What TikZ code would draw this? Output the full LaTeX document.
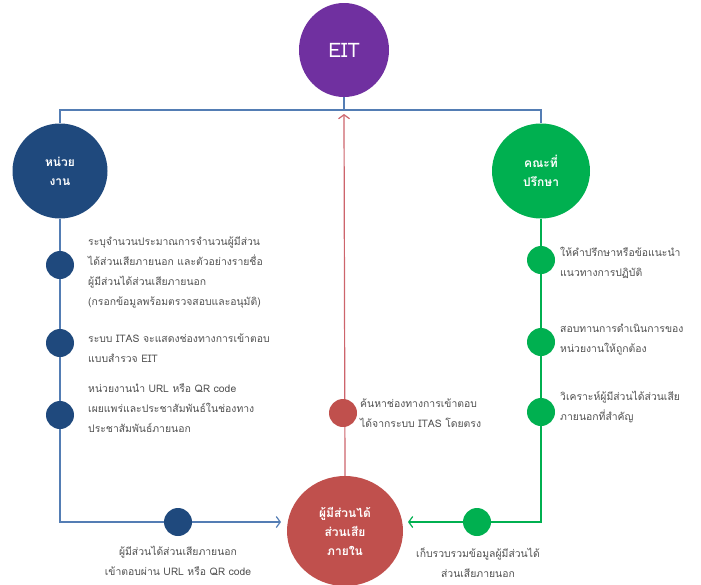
\documentclass[tikz,border=0pt]{standalone}
\usepackage{fontspec}
\setmainfont[Script=Thai]{Loma}
\usepackage{tikz}
\usetikzlibrary{arrows.meta, shapes.geometric}

\definecolor{eitpurple}{RGB}{112,48,160}
\definecolor{unitnavy}{RGB}{31,73,125}
\definecolor{boardgreen}{RGB}{0,176,80}
\definecolor{insidered}{RGB}{192,80,77}
\definecolor{lineblue}{RGB}{84,125,180}
\definecolor{linered}{RGB}{205,100,108}
\definecolor{notegray}{RGB}{80,80,80}

\tikzset{
    hub/.style={ellipse, fill=#1, text=white, align=center, inner sep=0pt,
        font=\bfseries\fontsize{12}{19}\selectfont},
    bullet/.style={circle, fill=#1, minimum size=28pt, inner sep=0pt},
    note/.style={text=notegray, align=left, inner sep=0pt,
        font=\fontsize{10.4}{20}\selectfont},
    link/.style={draw=#1, line width=1.2pt},
    arrowend/.style={arrows={-Straight Barb[length=4pt, width=11pt]}}
}

\begin{document}
\begin{tikzpicture}[x=1pt, y=-1pt]
        \useasboundingbox (0,0) rectangle (701,584);
        \node [hub=eitpurple, minimum width=90pt, minimum height=94pt,
            font=\fontsize{20}{20}\selectfont] (eit) at (344,50) {EIT};
        \node [hub=unitnavy, minimum width=95pt, minimum height=95pt] (unit) at (60,171) {หน่วย\\งาน};
        \node [hub=boardgreen, minimum width=98pt, minimum height=95pt] (board) at (541,171) {คณะที่\\ปรึกษา};
        \node [hub=insidered, minimum width=116pt, minimum height=110pt] (inside) at (345,531)
            {ผู้มีส่วนได้\\ส่วนเสีย\\ภายใน};
        \coordinate (ridge) at (344,110);
        \coordinate (eitmouth) at (344,114);
        \coordinate (leftend) at (281,522);
        \coordinate (rightend) at (408,522);
        \draw [link=lineblue] (eit.south) -- (ridge);
        \draw [link=lineblue] (unit.north) |- (ridge) -| (board.north);
        \draw [link=lineblue, arrowend] (unit.south) |- (leftend);
        \draw [link=boardgreen, arrowend] (board.south) |- (rightend);
        \draw [link=linered, arrowend] (inside.north) -- (eitmouth);
        \node [bullet=unitnavy] (unitone) at (60,265) {};
        \node [bullet=unitnavy] (unittwo) at (60,343) {};
        \node [bullet=unitnavy] (unitthree) at (60,415) {};
        \node [bullet=unitnavy] (unitfour) at (178,522) {};
        \node [bullet=boardgreen] (boardone) at (541,260) {};
        \node [bullet=boardgreen] (boardtwo) at (541,342) {};
        \node [bullet=boardgreen] (boardthree) at (541,412) {};
        \node [bullet=boardgreen] (boardfour) at (477,522) {};
        \node [bullet=insidered] (insideone) at (343,413) {};
        \node [note, anchor=west] (unitonetext) at (88,272)
            {ระบุจำนวนประมาณการจำนวนผู้มีส่วน\\ได้ส่วนเสียภายนอก และตัวอย่างรายชื่อ\\ผู้มีส่วนได้ส่วนเสียภายนอก\\(กรอกข้อมูลพร้อมตรวจสอบและอนุมัติ)};
        \node [note, anchor=west] (unittwotext) at (88,348)
            {ระบบ ITAS จะแสดงช่องทางการเข้าตอบ\\แบบสำรวจ EIT};
        \node [note, anchor=west] (unitthreetext) at (88,408)
            {หน่วยงานนำ URL หรือ QR code\\เผยแพร่และประชาสัมพันธ์ในช่องทาง\\ประชาสัมพันธ์ภายนอก};
        \node [note, align=center] (unitfourtext) at (178,561)
            {ผู้มีส่วนได้ส่วนเสียภายนอก\\เข้าตอบผ่าน URL หรือ QR code};
        \node [note, anchor=west] (boardonetext) at (560,263)
            {ให้คำปรึกษาหรือข้อแนะนำ\\แนวทางการปฏิบัติ};
        \node [note, anchor=west] (boardtwotext) at (560,340)
            {สอบทานการดำเนินการของ\\หน่วยงานให้ถูกต้อง};
        \node [note, anchor=west] (boardthreetext) at (560,407)
            {วิเคราะห์ผู้มีส่วนได้ส่วนเสีย\\ภายนอกที่สำคัญ};
        \node [note, align=center] (boardfourtext) at (478,563)
            {เก็บรวบรวมข้อมูลผู้มีส่วนได้\\ส่วนเสียภายนอก};
        \node [note, anchor=west] (insideonetext) at (360,413)
            {ค้นหาช่องทางการเข้าตอบ\\ได้จากระบบ ITAS โดยตรง};
    \end{tikzpicture}
\end{document}
